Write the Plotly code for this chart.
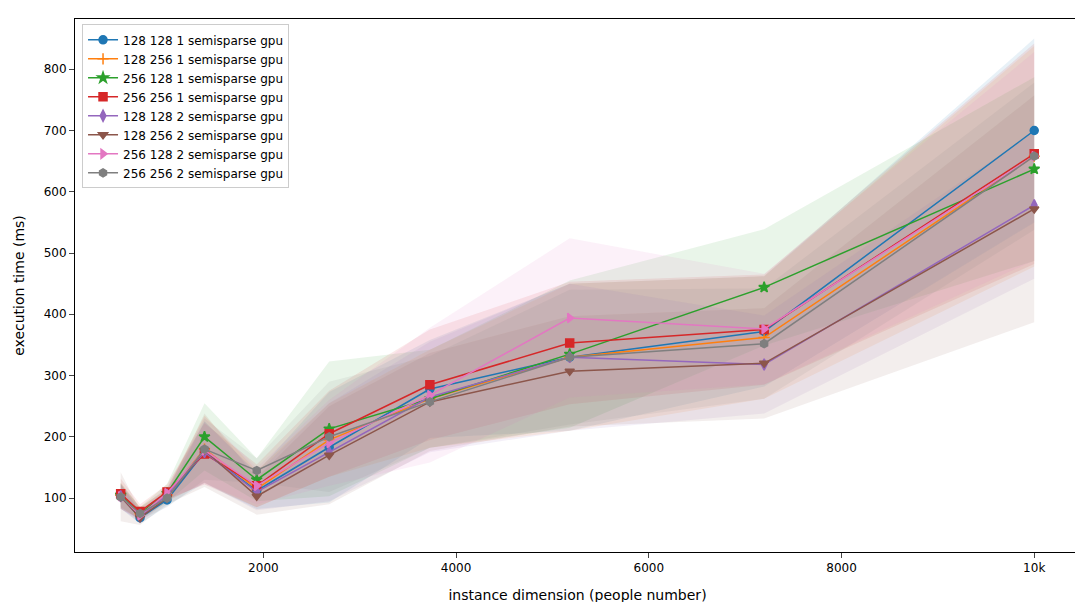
import plotly.graph_objects as go

x = [519, 720, 1000, 1389, 1931, 2683, 3728, 5179, 7197, 10000]

names = ['128 128 1 semisparse gpu', '128 256 1 semisparse gpu', '256 128 1 semisparse gpu',
         '256 256 1 semisparse gpu', '128 128 2 semisparse gpu', '128 256 2 semisparse gpu',
         '256 128 2 semisparse gpu', '256 256 2 semisparse gpu']

means = [
    [103, 68, 97, 175, 112, 183, 278, 330, 372, 700],
    [105, 75, 105, 180, 115, 195, 262, 330, 362, 658],
    [105, 75, 108, 200, 130, 213, 262, 335, 444, 637],
    [107, 78, 110, 172, 120, 205, 285, 353, 375, 662],
    [103, 70, 105, 175, 110, 175, 265, 330, 318, 578],
    [102, 68, 100, 178, 103, 170, 257, 307, 320, 572],
    [103, 72, 108, 178, 120, 190, 268, 394, 376, 658],
    [102, 75, 100, 180, 145, 200, 257, 330, 352, 658],
]

stds = [
    [20, 10, 10, 50, 30, 90, 80, 120, 90, 150],
    [20, 10, 10, 55, 30, 60, 80, 120, 100, 180],
    [20, 10, 15, 55, 35, 110, 80, 120, 95, 150],
    [25, 12, 12, 50, 35, 70, 90, 100, 90, 180],
    [20, 10, 10, 50, 30, 80, 90, 120, 80, 120],
    [40, 12, 10, 60, 30, 80, 80, 90, 90, 185],
    [20, 10, 10, 55, 30, 70, 110, 130, 90, 170],
    [20, 10, 15, 50, 20, 90, 75, 110, 90, 120],
]

colors = ['#1f77b4', '#ff7f0e', '#2ca02c', '#d62728', '#9467bd', '#8c564b', '#e377c2', '#7f7f7f']
symbols = ['circle', 'cross-thin-open', 'star', 'square', 'diamond-tall', 'triangle-down',
           'triangle-right', 'hexagon']


def rgba(h, a):
    return 'rgba(%d,%d,%d,%s)' % (int(h[1:3], 16), int(h[3:5], 16), int(h[5:7], 16), a)


fig = go.Figure()
for name, m, s, c in zip(names, means, stds, colors):
    up = [a + b for a, b in zip(m, s)]
    lo = [a - b for a, b in zip(m, s)]
    fig.add_trace(go.Scatter(x=x + x[::-1], y=up + lo[::-1], fill='toself',
                             fillcolor=rgba(c, 0.1), line=dict(width=0),
                             hoverinfo='skip', showlegend=False))

for name, m, c, sym in zip(names, means, colors, symbols):
    fig.add_trace(go.Scatter(x=x, y=m, name=name, mode='lines+markers',
                             line=dict(color=c, width=1.5),
                             marker=dict(symbol=sym, size=8, color=c,
                                         line=dict(color=c, width=1.5))))

fig.update_layout(
    width=1083, height=602, plot_bgcolor='white', paper_bgcolor='white',
    margin=dict(l=67, r=10, t=10, b=52),
    font=dict(family='DejaVu Sans', size=12, color='black'),
    legend=dict(x=0.007, y=0.99, xanchor='left', yanchor='top',
                bordercolor='#cccccc', borderwidth=1, bgcolor='rgba(255,255,255,0.8)'),
)
fig.update_xaxes(title_text='instance dimension (people number)', range=[45, 10475],
                 tickvals=[2000, 4000, 6000, 8000, 10000], showgrid=False,
                 showline=True, linecolor='black', mirror=True, ticks='outside', zeroline=False)
fig.update_yaxes(title_text='execution time (ms)', range=[12, 882],
                 tickvals=[100, 200, 300, 400, 500, 600, 700, 800], showgrid=False,
                 showline=True, linecolor='black', mirror=True, ticks='outside', zeroline=False)

fig.write_html('out.html')
